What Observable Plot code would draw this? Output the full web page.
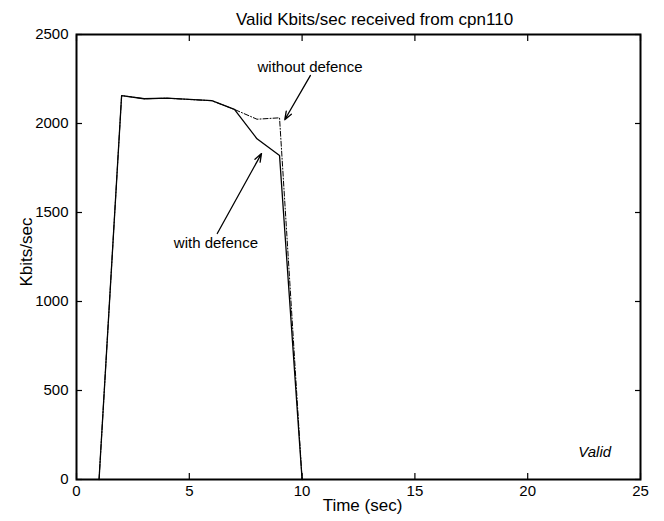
<!DOCTYPE html>
<html>
<head>
<meta charset="utf-8">
<script src="https://cdn.jsdelivr.net/npm/d3@7"></script>
<script src="https://cdn.jsdelivr.net/npm/@observablehq/plot@0.6"></script>
<style>
  html, body { margin: 0; padding: 0; background: #fff; }
</style>
</head>
<body>
<div id="chart"></div>
<script>
const title = "Valid Kbits/sec received from cpn110";
const xLabel = "Time (sec)";
const yLabel = "Kbits/sec";
const time = [1, 2, 3, 4, 5, 6, 7, 8, 9, 10];
const withDefence = [0, 2157, 2139, 2142, 2135, 2128, 2079, 1914, 1820, 0];
const withoutDefence = [0, 2157, 2139, 2142, 2135, 2128, 2079, 2024, 2032, 0];
const xTicks = [0, 5, 10, 15, 20, 25];
const yTicks = [0, 500, 1000, 1500, 2000, 2500];

// annotations (data units)
const noteText = ["without defence", "with defence"];
const noteX = [10.35, 6.18];
const noteY = [2316, 1326];
const arrowX1 = [10.37, 6.24];
const arrowY1 = [2270, 1382];
const arrowX2 = [9.23, 8.20];
const arrowY2 = [2021, 1831];
const cornerLabel = "Valid";
const cornerX = 22.97;
const cornerY = 153;

const withData = time.map((t, i) => ({t, v: withDefence[i]}));
const withoutData = time.map((t, i) => ({t, v: withoutDefence[i]}));
const notes = noteText.map((s, i) => ({s, x: noteX[i], y: noteY[i], x1: arrowX1[i], y1: arrowY1[i], x2: arrowX2[i], y2: arrowY2[i]}));

const font = "'Liberation Sans', Arial, Helvetica, sans-serif";

const chart = Plot.plot({
  width: 664,
  height: 521,
  marginLeft: 76,
  marginRight: 24,
  marginTop: 34,
  marginBottom: 42,
  style: {fontFamily: font, fontSize: "15px", color: "black", background: "white"},
  x: {domain: [0, 25]},
  y: {domain: [0, 2500]},
  marks: [
    // tick labels
    Plot.axisX({anchor: "bottom", ticks: xTicks, tickFormat: d3.format("d"), tickSize: 0, tickPadding: 6, label: null, fontSize: 15}),
    Plot.axisY({anchor: "left", ticks: yTicks, tickFormat: d3.format("d"), tickSize: 0, tickPadding: 8, label: null, fontSize: 15}),
    // inward ticks on all four sides
    Plot.axisX({anchor: "bottom", ticks: xTicks, tickSize: 6, dy: -6, text: null, label: null, strokeWidth: 1.2}),
    Plot.axisX({anchor: "top", ticks: xTicks, tickSize: 6, dy: 6, text: null, label: null, strokeWidth: 1.2}),
    Plot.axisY({anchor: "left", ticks: yTicks, tickSize: 6, dx: 6, text: null, label: null, strokeWidth: 1.2}),
    Plot.axisY({anchor: "right", ticks: yTicks, tickSize: 6, dx: -6, text: null, label: null, strokeWidth: 1.2}),
    Plot.frame({stroke: "black", strokeWidth: 2}),
    Plot.line(withoutData, {x: "t", y: "v", stroke: "black", strokeWidth: 1, strokeDasharray: "5,2,1,2"}),
    Plot.line(withData, {x: "t", y: "v", stroke: "black", strokeWidth: 1.3}),
    Plot.arrow(notes, {x1: "x1", y1: "y1", x2: "x2", y2: "y2", stroke: "black", strokeWidth: 1.3, headLength: 10, headAngle: 40, bend: 0}),
    Plot.text(notes, {x: "x", y: "y", text: "s", fontSize: 15, fill: "black"}),
    Plot.text([cornerLabel], {x: () => cornerX, y: () => cornerY, text: d => d, fontSize: 15, fontStyle: "italic", fill: "black"}),
    Plot.text([title], {frameAnchor: "top", textAnchor: "middle", lineAnchor: "middle", dx: 16, dy: -15, text: d => d, fontSize: 17, fill: "black"}),
    Plot.text([xLabel], {frameAnchor: "bottom", textAnchor: "middle", lineAnchor: "middle", dx: 4, dy: 26, text: d => d, fontSize: 17, fill: "black"}),
    Plot.text([yLabel], {frameAnchor: "left", textAnchor: "middle", lineAnchor: "middle", dx: -50, dy: -5, rotate: -90, text: d => d, fontSize: 17, fill: "black"})
  ]
});
document.getElementById("chart").appendChild(chart);
</script>
</body>
</html>
